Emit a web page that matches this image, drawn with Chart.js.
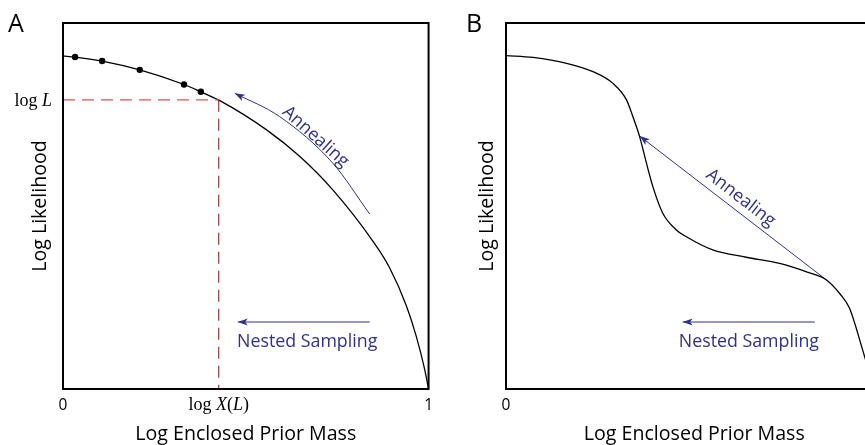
<!DOCTYPE html>
<html>
<head>
<meta charset="utf-8">
<script src="https://cdn.jsdelivr.net/npm/chart.js@4.4.1/dist/chart.umd.min.js"></script>
<style>
  html, body { margin: 0; padding: 0; background: #fff; overflow: hidden; }
  body { width: 865px; height: 445px; position: relative; }
  canvas { position: absolute; top: 0; }
  #chartA { left: 0; }
  #chartB { left: 443px; }
</style>
</head>
<body>
<canvas id="chartA" width="440" height="445"></canvas>
<canvas id="chartB" width="451" height="445"></canvas>
<script>
// Panel A - smooth likelihood curve (log enclosed prior mass vs log likelihood, 0..1)
const curveAX = [0, 0.033, 0.107, 0.210, 0.331, 0.377, 0.429, 0.557, 0.648, 0.738, 0.847, 0.893, 0.939, 0.966, 0.989, 1];
const curveAY = [0.910, 0.907, 0.896, 0.872, 0.832, 0.812, 0.788, 0.708, 0.635, 0.544, 0.405, 0.332, 0.228, 0.145, 0.055, 0];
// nested sampling points on the curve
const samplesX = [0.033, 0.107, 0.210, 0.331, 0.377];
const samplesY = [0.907, 0.896, 0.872, 0.832, 0.812];
// threshold: log L and log X(L)
const thresholdX = 0.426;
const thresholdY = 0.79;

// Panel B - curve with a phase transition
const curveBX = [0, 0.072, 0.161, 0.231, 0.284, 0.320, 0.337, 0.355, 0.373, 0.390, 0.416, 0.453, 0.479, 0.549, 0.638, 0.727, 0.798, 0.851, 0.886, 0.912, 0.947, 0.972];
const curveBY = [0.911, 0.906, 0.890, 0.867, 0.835, 0.790, 0.744, 0.689, 0.617, 0.553, 0.481, 0.434, 0.416, 0.380, 0.360, 0.343, 0.320, 0.298, 0.261, 0.221, 0.107, 0.02];

// x ticks
const xTickValues = [0, 1];
const xTickLabels = ['0', '1'];

// arrows (tip is the first point)
const annealAX = [0.470, 0.593, 0.738, 0.839];
const annealAY = [0.808, 0.744, 0.617, 0.478];
const nestedAX = [0.478, 0.839];
const nestedAY = [0.183, 0.183];
const annealBX = [0.355, 0.851];
const annealBY = [0.691, 0.298];
const nestedBX = [0.469, 0.820];
const nestedBY = [0.183, 0.183];

const SANS = '"Open Sans", sans-serif';
const SERIF = '"Liberation Serif", "Times New Roman", serif';
const BLUE = '#2e3192';

function pts(xs, ys) {
    return xs.map((x, i) => ({ x: x, y: ys[i] }));
}

function lineSet(xs, ys, color, width, extra) {
    return Object.assign({
        data: pts(xs, ys),
        showLine: true,
        borderColor: color,
        borderWidth: width,
        pointRadius: 0,
        fill: false
    }, extra || {});
}

function drawRich(ctx, parts, x, y, size) {
    // parts: [text, italic]
    let total = 0;
    parts.forEach(p => {
        ctx.font = (p[1] ? 'italic ' : '') + size + 'px ' + SERIF;
        total += ctx.measureText(p[0]).width;
    });
    let cx = x - total;
    if (ctx.textAlign === 'center') cx = x - total / 2;
    const saved = ctx.textAlign;
    ctx.textAlign = 'left';
    parts.forEach(p => {
        ctx.font = (p[1] ? 'italic ' : '') + size + 'px ' + SERIF;
        ctx.fillText(p[0], cx, y);
        cx += ctx.measureText(p[0]).width;
    });
    ctx.textAlign = saved;
}

function makePanel(id, panel) {
    const deco = {
        id: 'deco',
        afterDatasetsDraw(chart) {
            const ctx = chart.ctx;
            const a = chart.chartArea;
            const xs = chart.scales.x, ys = chart.scales.y;
            ctx.save();

            // frame
            ctx.strokeStyle = '#000';
            ctx.lineWidth = 2;
            ctx.strokeRect(a.left, a.top, a.right - a.left, a.bottom - a.top);

            // arrowheads at the first point of arrow datasets
            chart.data.datasets.forEach((ds, i) => {
                if (!ds.arrow) return;
                const els = chart.getDatasetMeta(i).data;
                const tip = els[0];
                let bx = els[1].x, by = els[1].y;
                if (tip.cp2x !== undefined && Math.abs(tip.cp2x - tip.x) > 0.5) {
                    bx = tip.cp2x; by = tip.cp2y;
                }
                const ang = Math.atan2(tip.y - by, tip.x - bx);
                const L = 10, W = 3.6;
                ctx.save();
                ctx.translate(tip.x, tip.y);
                ctx.rotate(ang);
                ctx.fillStyle = BLUE;
                ctx.beginPath();
                ctx.moveTo(0, 0);
                ctx.lineTo(-L, -W);
                ctx.lineTo(-L * 0.75, 0);
                ctx.lineTo(-L, W);
                ctx.closePath();
                ctx.fill();
                ctx.restore();
            });

            // panel letter
            ctx.fillStyle = '#000';
            ctx.font = '25px ' + SANS;
            ctx.textAlign = 'left';
            ctx.textBaseline = 'alphabetic';
            ctx.fillText(panel.letter, a.left + panel.letterDx, 32);

            // blue labels
            ctx.fillStyle = BLUE;
            ctx.font = '17.8px ' + SANS;
            panel.labels.forEach(l => {
                const px = xs.getPixelForValue(l.x), py = ys.getPixelForValue(l.y);
                ctx.save();
                ctx.translate(px, py);
                ctx.rotate(l.angle * Math.PI / 180);
                ctx.textAlign = 'center';
                ctx.textBaseline = l.angle ? 'middle' : 'alphabetic';
                ctx.fillText(l.text, 0, 0);
                ctx.restore();
            });

            // serif threshold labels
            if (panel.threshold) {
                ctx.fillStyle = '#000';
                ctx.textBaseline = 'alphabetic';
                ctx.textAlign = 'right';
                drawRich(ctx, [['log ', false], ['L', true]], a.left - 11, ys.getPixelForValue(thresholdY) + 6, 18);
                ctx.textAlign = 'center';
                drawRich(ctx, [['log ', false], ['X', true], ['(', false], ['L', true], [')', false]],
                    xs.getPixelForValue(thresholdX), a.bottom + 21, 18);
            }
            ctx.restore();
        }
    };

    return new Chart(document.getElementById(id), {
        type: 'scatter',
        data: { datasets: panel.datasets },
        options: {
            responsive: false,
            animation: false,
            layout: { padding: { top: 23, right: 11, left: 0, bottom: 0 } },
            plugins: { legend: { display: false }, tooltip: { enabled: false } },
            scales: {
                x: {
                    type: 'linear', min: 0, max: 1,
                    grid: { display: false, drawTicks: false },
                    border: { display: false },
                    afterBuildTicks: s => { s.ticks = xTickValues.map(v => ({ value: v })); },
                    afterFit: s => { s.height = 56; },
                    ticks: {
                        color: '#000', padding: 7, autoSkip: false, maxRotation: 0,
                        font: { family: SANS, size: 15.5 },
                        callback: (v, i) => xTickLabels[i]
                    },
                    title: {
                        display: true, text: 'Log Enclosed Prior Mass', color: '#000',
                        font: { family: SANS, size: 19.6, lineHeight: 1 },
                        padding: { top: 0, bottom: 1 }
                    }
                },
                y: {
                    type: 'linear', min: 0, max: 1,
                    grid: { display: false, drawTicks: false },
                    border: { display: false },
                    afterFit: s => { s.width = 63; },
                    ticks: { display: false },
                    title: {
                        display: true, text: 'Log Likelihood', color: '#000',
                        font: { family: SANS, size: 19.6, lineHeight: 1 },
                        padding: { top: panel.yTitlePad, bottom: 0 }
                    }
                }
            }
        },
        plugins: [deco]
    });
}

makePanel('chartA', {
    letter: 'A', letterDx: -55, yTitlePad: 31, threshold: true,
    datasets: [
        lineSet([0, thresholdX], [thresholdY, thresholdY], '#e2524a', 1.2, { borderDash: [12, 7] }),
        lineSet([thresholdX, thresholdX], [thresholdY, 0], '#86262a', 1.1, { borderDash: [12, 7] }),
        lineSet(curveAX, curveAY, '#000', 1.3, { cubicInterpolationMode: 'monotone' }),
        { data: pts(samplesX, samplesY), showLine: false, pointRadius: 3.2, backgroundColor: '#000', borderWidth: 0 },
        lineSet(annealAX, annealAY, BLUE, 1, { cubicInterpolationMode: 'monotone', arrow: true }),
        lineSet(nestedAX, nestedAY, BLUE, 1, { arrow: true })
    ],
    labels: [
        { text: 'Annealing', x: 0.691, y: 0.689, angle: 41.7 },
        { text: 'Nested Sampling', x: 0.668, y: 0.115, angle: 0 }
    ]
});

makePanel('chartB', {
    letter: 'B', letterDx: -40, yTitlePad: 35, threshold: false,
    datasets: [
        lineSet(curveBX, curveBY, '#000', 1.3, { cubicInterpolationMode: 'monotone' }),
        lineSet(annealBX, annealBY, BLUE, 1, { arrow: true }),
        lineSet(nestedBX, nestedBY, BLUE, 1, { arrow: true })
    ],
    labels: [
        { text: 'Annealing', x: 0.623, y: 0.522, angle: 37.8 },
        { text: 'Nested Sampling', x: 0.645, y: 0.115, angle: 0 }
    ]
});
</script>
</body>
</html>
